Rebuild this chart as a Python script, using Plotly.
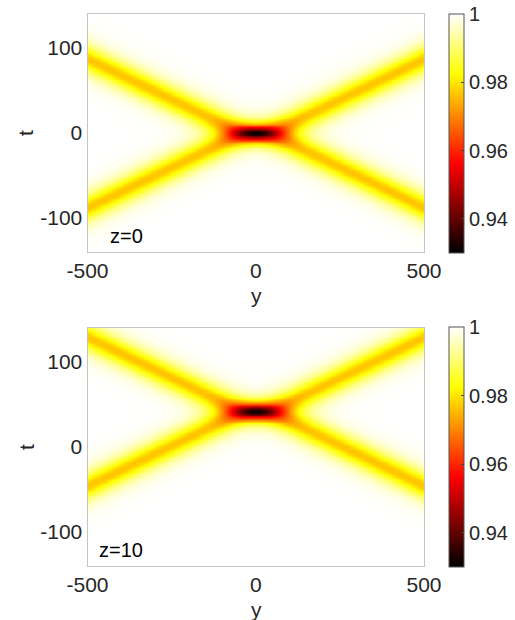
import numpy as np
import plotly.graph_objects as go

# ---------------- data ----------------
panel_labels = ["z=0", "z=10"]
stem_t = [0.0, 42.0]               # t position of the dark central stem
branch_t_at_edge = [87.5, 87.5]    # branch offset (in t) from the stem at y = +-500
stem_half_length = [41.0, 41.0]    # half length (in y) of the central stem
branch_min = [0.9765, 0.9765]      # intensity at the core of the four branches
branch_fwhm_t = [27.0, 27.0]       # vertical FWHM of a branch (in t)

y_range = [-500, 500]
t_range = [-140, 140]
y_ticks = [-500, 0, 500]
y_ticktext = ["-500", "0", "500"]
t_ticks = [-100, 0, 100]
t_ticktext = ["-100", "0", "100"]
cbar_range = [0.93, 1.0]
cbar_ticks = [0.94, 0.96, 0.98, 1]
cbar_ticktext = ["0.94", "0.96", "0.98", "1"]

y = np.linspace(y_range[0], y_range[1], 251)
t = np.linspace(t_range[0], t_range[1], 141)
Y, T = np.meshgrid(y, t)


def field(k):
    # X-shaped resonant line-soliton pattern built from the read parameters
    a = 4 * 0.8814 / branch_fwhm_t[k]
    s = branch_t_at_edge[k] / (y_range[1] - stem_half_length[k])
    b = s * a
    lnA = 2 * b * stem_half_length[k]
    A = np.exp(lnA)
    TT = T - stem_t[k]
    th1 = a * TT + b * Y - lnA / 2
    th2 = a * TT - b * Y - lnA / 2
    e1, e2, e12 = np.exp(th1), np.exp(th2), A * np.exp(th1 + th2)
    tau = 1 + e1 + e2 + e12
    d1 = a * e1 + a * e2 + 2 * a * e12
    d2 = a * a * e1 + a * a * e2 + 4 * a * a * e12
    u = 2 * (d2 * tau - d1 * d1) / tau ** 2
    kappa = (1 - branch_min[k]) / (a * a / 2)
    return np.round(1 - kappa * u, 5)


hot = [[0.0, "rgb(0,0,0)"], [0.375, "rgb(255,0,0)"],
       [0.75, "rgb(255,255,0)"], [1.0, "rgb(255,255,255)"]]

W, H = 515, 620
font = "Liberation Sans, Arial, Helvetica, sans-serif"
tick_col = "#262626"

# pixel layout
x_dom = [87.5 / W, 424 / W]
panels_px = [(14, 252), (328, 566)]
cbar_px = [(14, 253), (327, 567)]
label_pos = [(-440, -121), (-472, -121)]
ytitle_px = [295, 609]

fig = go.Figure()
for k in range(2):
    top, bot = panels_px[k]
    ydom = [1 - bot / H, 1 - top / H]
    ctop, cbot = cbar_px[k]
    xa = "x" if k == 0 else "x2"
    ya = "y" if k == 0 else "y2"
    fig.add_trace(go.Heatmap(
        x=y, y=t, z=field(k), xaxis=xa, yaxis=ya,
        colorscale=hot, zmin=cbar_range[0], zmax=cbar_range[1],
        zsmooth="best", hoverinfo="skip",
        colorbar=dict(
            x=449 / W, xanchor="left", xref="paper",
            y=1 - (ctop + cbot) / 2 / H, yanchor="middle", yref="paper",
            len=(cbot - ctop) / H, lenmode="fraction",
            thickness=15, thicknessmode="pixels",
            outlinecolor="#555555", outlinewidth=1,
            tickvals=cbar_ticks, ticktext=cbar_ticktext,
            ticks="inside", ticklen=3, tickcolor="#444444",
            tickfont=dict(family=font, size=20, color=tick_col),
            ypad=0, xpad=0,
        ),
    ))
    axkw = dict(showline=True, mirror=True, linecolor="#c4c4c4", linewidth=1,
                showgrid=False, zeroline=False, ticks="", automargin=False,
                tickfont=dict(family=font, size=21, color=tick_col))
    xname = "xaxis" if k == 0 else "xaxis2"
    yname = "yaxis" if k == 0 else "yaxis2"
    fig.update_layout(**{
        xname: dict(domain=x_dom, range=y_range, tickvals=y_ticks,
                    ticktext=y_ticktext, anchor=ya, **axkw),
        yname: dict(domain=ydom, range=t_range, tickvals=t_ticks,
                    ticktext=t_ticktext, anchor=xa, **axkw),
    })
    fig.add_annotation(x=label_pos[k][0], y=label_pos[k][1], xref=xa, yref=ya,
                       text=panel_labels[k], showarrow=False,
                       xanchor="left", yanchor="middle",
                       font=dict(family=font, size=20, color="black"))
    # axis titles
    fig.add_annotation(x=256 / W, y=1 - ytitle_px[k] / H, xref="paper", yref="paper",
                       text="y", showarrow=False, xanchor="center", yanchor="middle",
                       font=dict(family=font, size=21, color=tick_col))
    fig.add_annotation(x=26 / W, y=1 - (top + bot) / 2 / H, xref="paper", yref="paper",
                       text="t", showarrow=False, textangle=-90,
                       xanchor="center", yanchor="middle",
                       font=dict(family=font, size=21, color=tick_col))

fig.update_layout(width=W, height=H, margin=dict(l=0, r=0, t=0, b=0),
                  paper_bgcolor="white", plot_bgcolor="white",
                  showlegend=False)

fig.write_html("out.html", config={"displayModeBar": False},
               post_script="document.body.style.margin='0px';"
                           "document.body.style.overflow='hidden';")
